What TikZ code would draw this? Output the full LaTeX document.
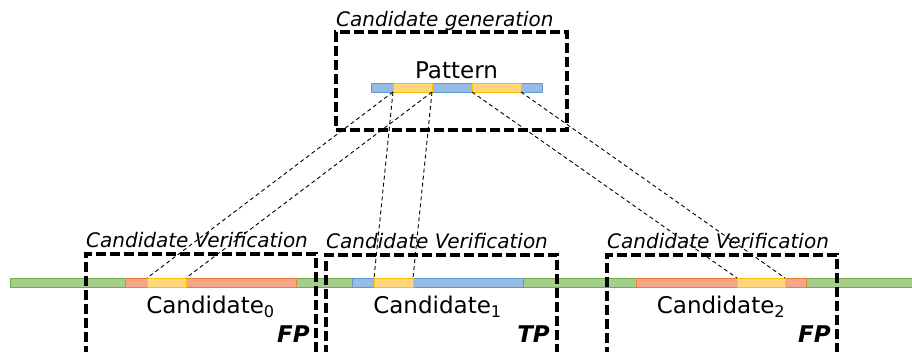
\documentclass[tikz,border=0pt]{standalone}
\usepackage{fontspec}
\setmainfont{DejaVu Sans}
\usepackage{tikz}
\usetikzlibrary{positioning}
\definecolor{seqgreen}{RGB}{163, 206, 140}
\definecolor{seqgreenline}{RGB}{112, 173, 71}
\definecolor{seqblue}{RGB}{150, 188, 228}
\definecolor{seqblueline}{RGB}{91, 155, 213}
\definecolor{seqred}{RGB}{242, 168, 136}
\definecolor{seqredline}{RGB}{237, 125, 49}
\definecolor{seqyellow}{RGB}{255, 214, 122}
\definecolor{seqyellowline}{RGB}{255, 192, 0}

\tikzset{
  seg/.style={draw, line width=1pt, minimum height=9pt, inner sep=0pt, outer sep=0pt, anchor=north west},
  greenseg/.style={seg, fill=seqgreen, draw=seqgreenline},
  blueseg/.style={seg, fill=seqblue, draw=seqblueline},
  redseg/.style={seg, fill=seqred, draw=seqredline},
  yellowseg/.style={seg, fill=seqyellow, draw=seqyellowline},
  stagebox/.style={draw, line width=3.2pt, dash pattern=on 10pt off 4pt, inner sep=0pt, outer sep=0pt, anchor=north west},
  link/.style={line width=0.9pt, dash pattern=on 4pt off 3pt},
  title/.style={font=\fontsize{20}{24}\selectfont\itshape, inner sep=0pt},
  lbl/.style={font=\fontsize{23}{27}\selectfont, inner sep=0pt},
  verdict/.style={font=\fontsize{23}{27}\selectfont\bfseries\itshape, inner sep=0pt, anchor=base east}
}

\begin{document}
\begin{tikzpicture}[x=1pt, y=-1pt]

  \useasboundingbox (0, 0) rectangle (912, 351);
  \clip (0, 0) rectangle (912, 351);

  % reference sequence
  \node[greenseg, minimum width=905pt] (ref) at (10, 278) {};

  % candidate regions on the sequence
  \node[redseg, minimum width=171pt] (cand0) at (125, 278) {};
  \node[yellowseg, minimum width=39pt] (cand0y) at (147, 278) {};
  \node[blueseg, minimum width=171pt] (cand1) at (352, 278) {};
  \node[yellowseg, minimum width=39pt] (cand1y) at (374, 278) {};
  \node[redseg, minimum width=170pt] (cand2) at (636, 278) {};
  \node[yellowseg, minimum width=48pt] (cand2y) at (737, 278) {};

  % pattern with its two seeds
  \node[blueseg, minimum width=171pt] (pat) at (371, 83) {};
  \node[yellowseg, minimum width=39pt] (seeda) at (393, 83) {};
  \node[yellowseg, minimum width=49pt] (seedb) at (472, 83) {};

  \node[lbl, above=4pt of pat] (patlbl) {Pattern};
  \node[lbl, below=9pt of cand0] (c0lbl) {Candidate\textsubscript{0}};
  \node[lbl, below=9pt of cand1] (c1lbl) {Candidate\textsubscript{1}};
  \node[lbl, below=9pt of cand2] (c2lbl) {Candidate\textsubscript{2}};

  % stage boxes
  \node[stagebox, minimum width=231pt, minimum height=98pt] (gen) at (336, 32) {};
  \node[stagebox, minimum width=230pt, minimum height=120pt] (ver0) at (86, 254) {};
  \node[stagebox, minimum width=231pt, minimum height=120pt] (ver1) at (326, 255) {};
  \node[stagebox, minimum width=230pt, minimum height=120pt] (ver2) at (607, 255) {};

  \node[title, anchor=base west, yshift=6pt] (gentitle) at (gen.north west) {Candidate generation};
  \node[title, anchor=base west, yshift=7pt] (ver0title) at (ver0.north west) {Candidate Verification};
  \node[title, anchor=base west, yshift=7pt] (ver1title) at (ver1.north west) {Candidate Verification};
  \node[title, anchor=base west, yshift=7pt] (ver2title) at (ver2.north west) {Candidate Verification};

  \node[verdict] (fp0) at ([xshift=-6pt, yshift=-88pt] ver0.north east) {FP};
  \node[verdict] (tp1) at ([xshift=-7pt, yshift=-87pt] ver1.north east) {TP};
  \node[verdict] (fp2) at ([xshift=-6pt, yshift=-87pt] ver2.north east) {FP};

  % seed matches
  \draw[link] (seeda.south west) -- (cand0y.north west);
  \draw[link] (seeda.south east) -- (cand0y.north east);
  \draw[link] (seeda.south west) -- (cand1y.north west);
  \draw[link] (seeda.south east) -- (cand1y.north east);
  \draw[link] (seedb.south west) -- (cand2y.north west);
  \draw[link] (seedb.south east) -- (cand2y.north east);

\end{tikzpicture}
\end{document}
